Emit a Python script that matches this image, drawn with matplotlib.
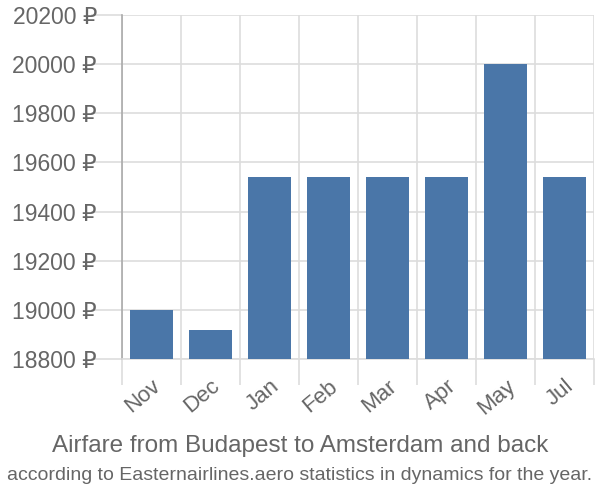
import numpy as np
import matplotlib
matplotlib.use('Agg')
import matplotlib.pyplot as plt

plt.rcParams['font.family'] = ['Liberation Sans', 'DejaVu Sans']

months = ['Nov', 'Dec', 'Jan', 'Feb', 'Mar', 'Apr', 'May', 'Jul']
prices = [19000, 18920, 19540, 19540, 19540, 19540, 20000, 19540]
y_ticks = [18800, 19000, 19200, 19400, 19600, 19800, 20000, 20200]

text_color = '#666666'
grid_color = '#dddddd'

fig = plt.figure(figsize=(6, 5), dpi=100)
ax = fig.add_axes([122 / 600, 141 / 500, 472 / 600, 344 / 500])

x = np.arange(len(months))
ax.bar(x, [p - 18800 for p in prices], bottom=18800, width=0.72,
       color='#4a76a8', zorder=3)

ax.set_xlim(-0.5, len(months) - 0.5)
ax.set_ylim(18800, 20200)

# gridlines between categories, ticks run out past the axis
ax.set_xticks(np.arange(len(months) + 1) - 0.5, minor=False)
ax.set_xticklabels([])
ax.xaxis.grid(True, color=grid_color, linewidth=1.2, zorder=0)
ax.tick_params(axis='x', which='major', length=19, color=grid_color, width=1.2)
ax.set_xticks(x, minor=True)
ax.set_xticklabels(months, minor=True, rotation=40, ha='right',
                   rotation_mode='anchor', fontsize=16, color=text_color)
ax.tick_params(axis='x', which='minor', length=0, pad=12)

ax.set_yticks(y_ticks)
ax.set_yticklabels([f'{v} ₽' for v in y_ticks], fontsize=16.5, color=text_color)
ax.yaxis.grid(True, color=grid_color, linewidth=1.2, zorder=0)
ax.tick_params(axis='y', length=22, color=grid_color, width=1.2, pad=-4)

for side in ['top', 'right']:
    ax.spines[side].set_visible(False)
ax.spines['bottom'].set_color(grid_color)
ax.spines['bottom'].set_linewidth(1.2)
ax.spines['left'].set_color('#aaaaaa')
ax.spines['left'].set_linewidth(1.2)

fig.text(0.5, 1 - 446 / 500, 'Airfare from Budapest to Amsterdam and back',
         ha='center', va='center', fontsize=17.5, color=text_color)
fig.text(0.5, 1 - 475 / 500, 'according to Easternairlines.aero statistics in dynamics for the year.',
         ha='center', va='center', fontsize=14, color=text_color)

fig.savefig('out.png', dpi=100)
